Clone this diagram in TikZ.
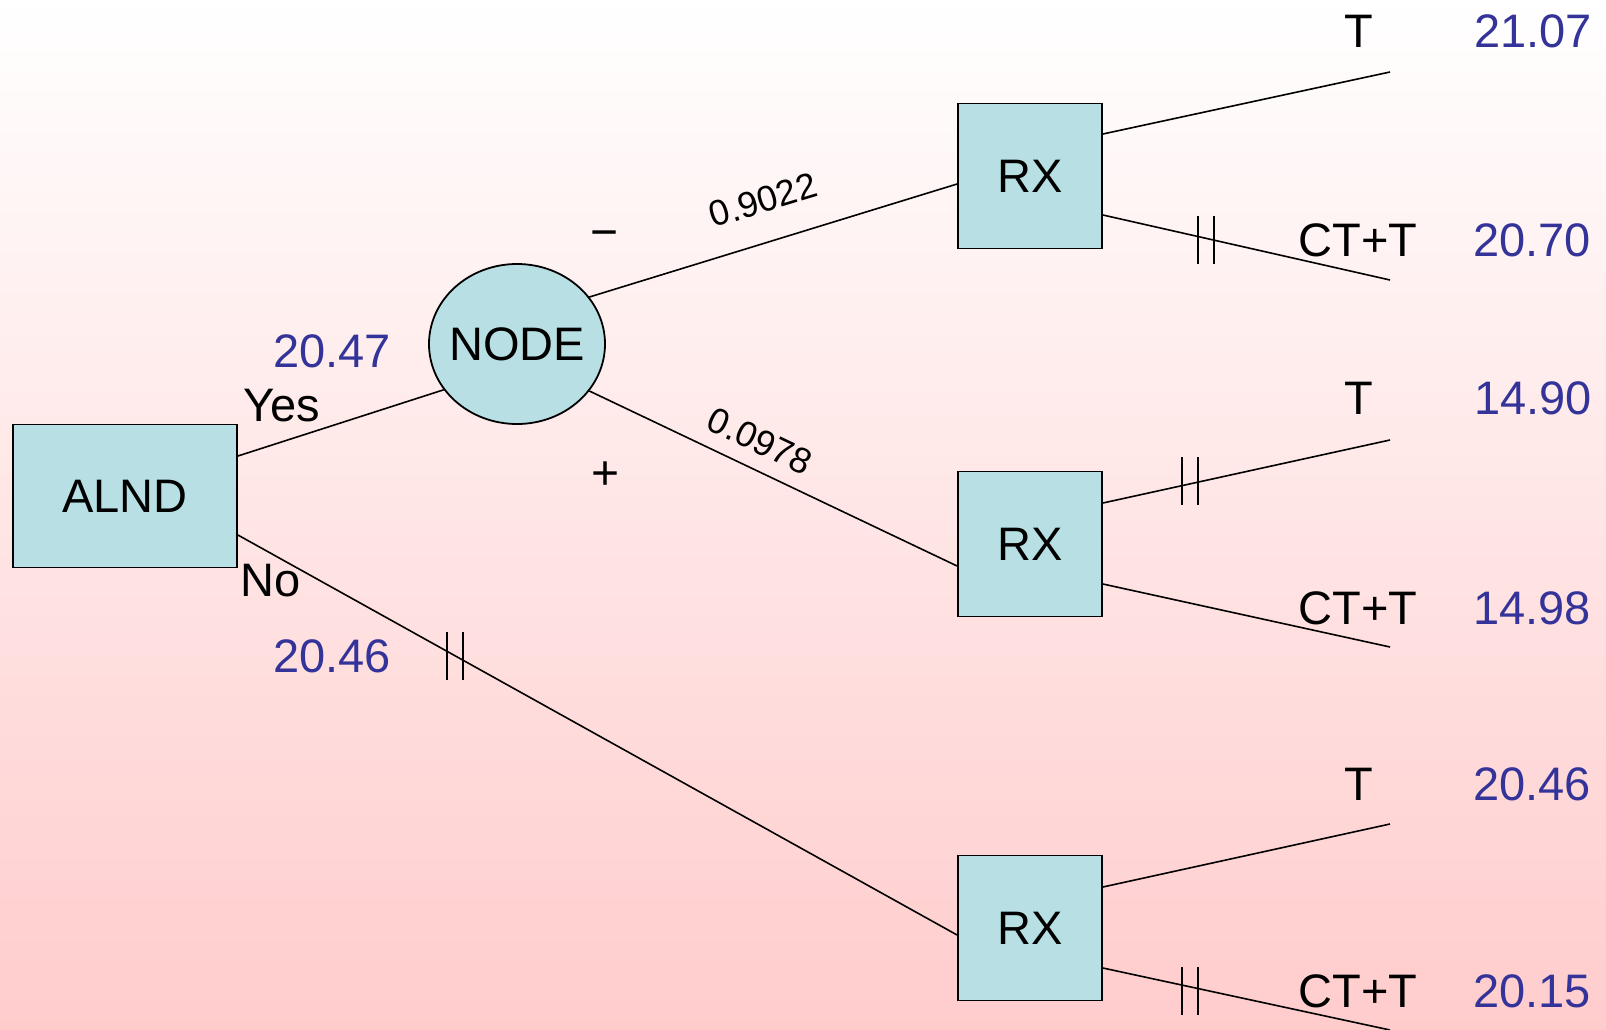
\documentclass[tikz,border=0pt]{standalone}
\usepackage{fontspec}
\setmainfont{Liberation Sans}
\usetikzlibrary{shapes.geometric}
\definecolor{boxfill}{RGB}{184,224,228}
\definecolor{valblue}{RGB}{51,51,153}
\definecolor{bgpink}{RGB}{255,204,204}
\tikzset{
  branch/.style={draw=black,line width=1.6pt},
  decision/.style={draw=black,line width=1.8pt,fill=boxfill,rectangle,
    minimum width=144pt,minimum height=145pt,inner sep=0pt,
    font=\fontsize{47}{56}\selectfont},
  chance/.style={draw=black,line width=1.8pt,fill=boxfill,ellipse,
    minimum width=176pt,minimum height=160pt,inner sep=-14pt,
    font=\fontsize{47}{56}\selectfont},
  lbl/.style={inner sep=0pt,font=\fontsize{47}{56}\selectfont},
  val/.style={inner sep=0pt,text=valblue,font=\fontsize{47}{56}\selectfont},
  prob/.style={inner sep=0pt,font=\fontsize{36}{42}\selectfont},
  sign/.style={inner sep=0pt,font=\fontsize{48}{56}\selectfont},
  cut/.pic={\draw[line width=1.6pt] (-8,-24) -- (-8,24);
            \draw[line width=1.6pt] (8,-24) -- (8,24);}
}
\begin{document}
\begin{tikzpicture}[x=1pt,y=-1pt]
  % page background with vertical fade
  \useasboundingbox (0,0) rectangle (1606,1030);
  \fill[top color=white,bottom color=bgpink] (0,0) rectangle (1606,1030);

  % nodes
  \node[decision,minimum width=224pt,minimum height=143pt] (alnd) at (125,496) {ALND};
  \node[chance] (nd) at (517,344) {NODE};
  \node[decision] (rxa) at (1030,176) {RX};
  \node[decision] (rxb) at (1030,544) {RX};
  \node[decision] (rxc) at (1030,928) {RX};

  % leaf end points
  \coordinate (ea1) at (1390,72);
  \coordinate (ea2) at (1390,280);
  \coordinate (eb1) at (1390,440);
  \coordinate (eb2) at (1390,647);
  \coordinate (ec1) at (1390,824);
  \coordinate (ec2) at (1390,1030);

  % branches
  \draw[branch] ([yshift=40pt]alnd.east) -- (nd.212);
  \draw[branch] ([yshift=-39pt]alnd.east) -- ([yshift=-7pt]rxc.west);
  \draw[branch] (nd.33) -- ([yshift=-8pt]rxa.west);
  \draw[branch] (nd.-33) -- ([yshift=-22pt]rxb.west);
  \draw[branch] ([yshift=42pt]rxa.east) -- (ea1);
  \draw[branch] ([yshift=-39pt]rxa.east) -- (ea2);
  \draw[branch] ([yshift=41pt]rxb.east) -- (eb1);
  \draw[branch] ([yshift=-40pt]rxb.east) -- (eb2);
  \draw[branch] ([yshift=41pt]rxc.east) -- (ec1);
  \draw[branch] ([yshift=-40pt]rxc.east) -- (ec2);

  % blocked branches
  \pic at (455,656) {cut};
  \pic at (1206,240) {cut};
  \pic at (1190,481) {cut};
  \pic at (1190,991) {cut};

  % branch labels
  \node[lbl] (yes) at (282,406) {Yes};
  \node[lbl] (no) at (271,581) {No};
  \node[val] (vyes) at (332,351) {20.47};
  \node[val] (vno) at (332,656) {20.46};
  \node[sign] (neg) at (605,240) {−};
  \node[sign] (pos) at (606,476) {+};
  \node[prob,rotate=16.9] (pneg) at (763,200) {0.9022};
  \node[prob,rotate=-25.3] (ppos) at (760,441) {0.0978};

  % outcomes
  \node[lbl] (ta) at (1359,31) {T};
  \node[lbl] (cta) at (1358,240) {CT+T};
  \node[lbl] (tb) at (1359,398) {T};
  \node[lbl] (ctb) at (1358,608) {CT+T};
  \node[lbl] (tc) at (1359,784) {T};
  \node[lbl] (ctc) at (1358,991) {CT+T};
  \node[val] (va1) at (1533,31) {21.07};
  \node[val] (va2) at (1532,240) {20.70};
  \node[val] (vb1) at (1533,398) {14.90};
  \node[val] (vb2) at (1532,608) {14.98};
  \node[val] (vc1) at (1532,784) {20.46};
  \node[val] (vc2) at (1532,991) {20.15};
\end{tikzpicture}
\end{document}
